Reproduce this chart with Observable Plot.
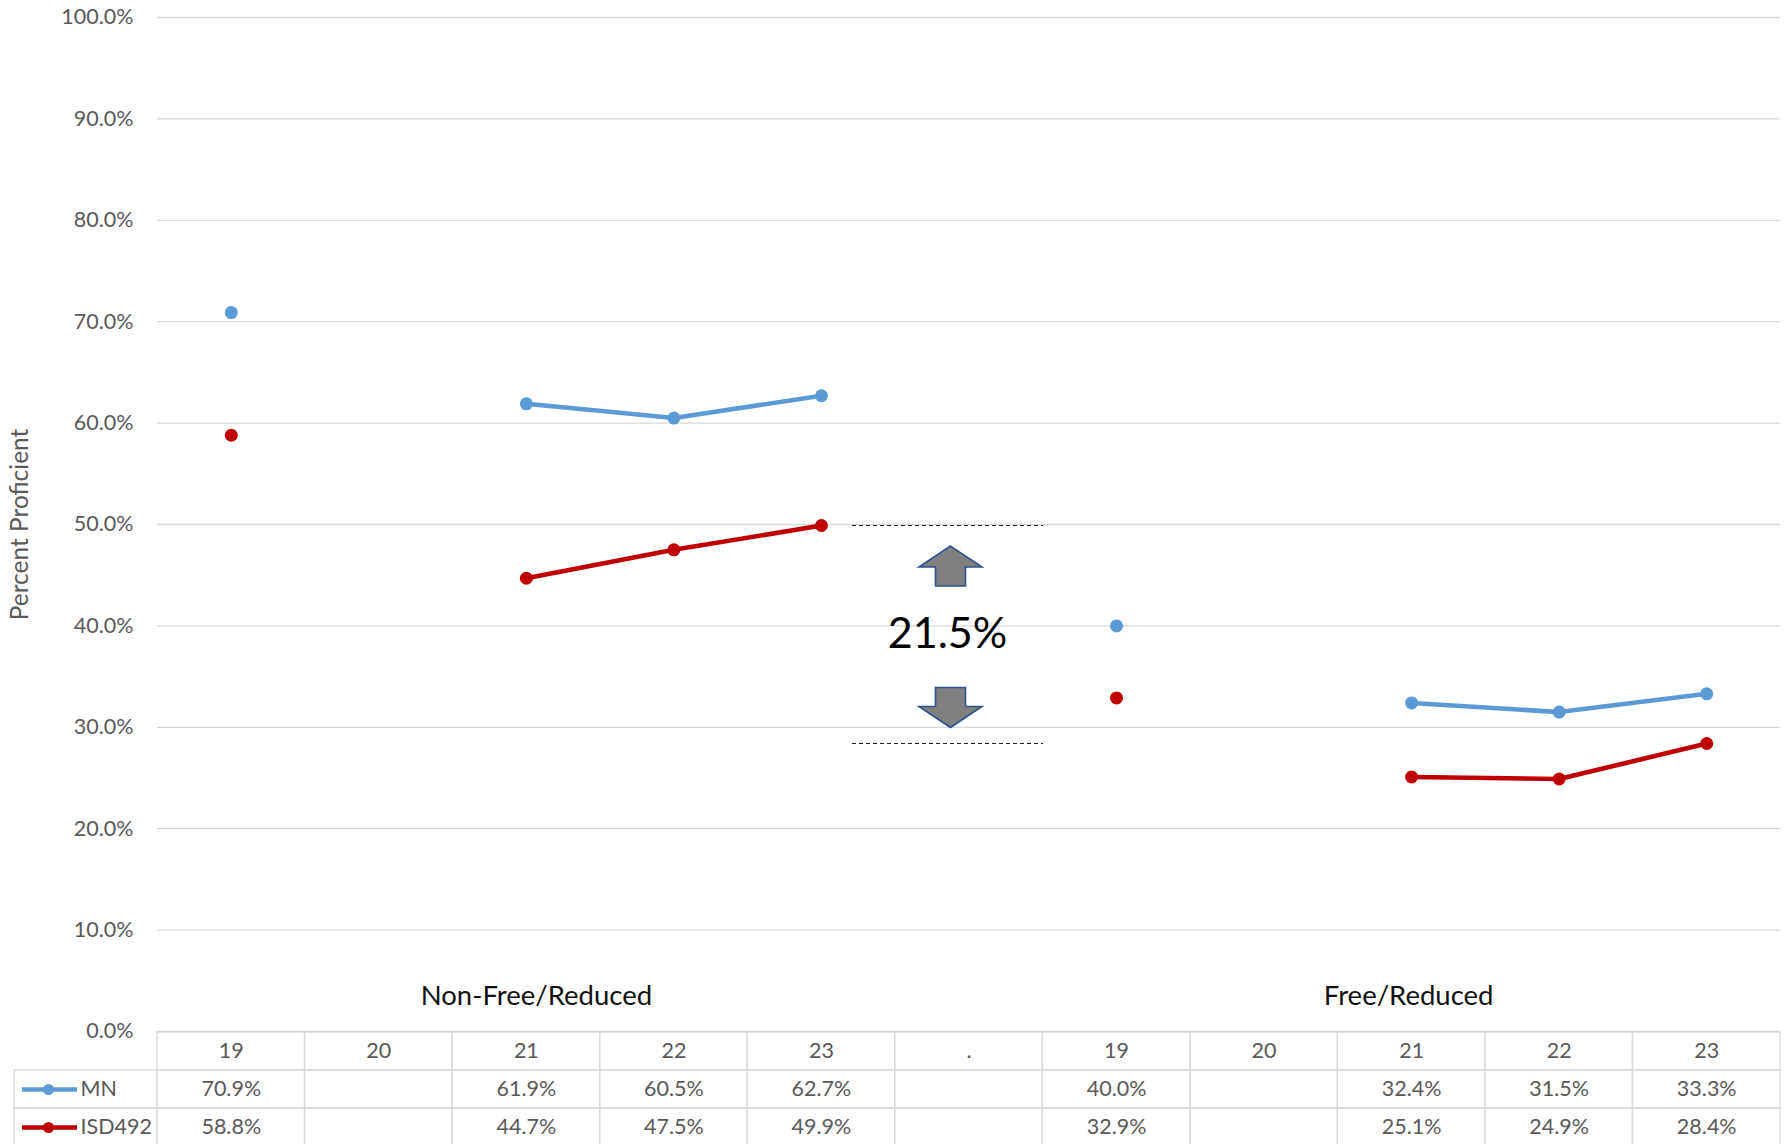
<!DOCTYPE html>
<html>
<head>
<meta charset="utf-8">
<script src="https://cdn.jsdelivr.net/npm/d3@7"></script>
<script src="https://cdn.jsdelivr.net/npm/@observablehq/plot@0.6"></script>
<style>
  html, body { margin: 0; padding: 0; background: #fff; overflow: hidden; }
  #wrap { position: relative; width: 1789px; height: 1144px; }
  #table { position: absolute; left: 0; top: 1032px; }
  #chart { position: absolute; left: 0; top: 0; }
</style>
</head>
<body>
<div id="wrap"><div id="chart"></div><div id="table"></div></div>
<script>
// ---- data ----
const categories = ["19", "20", "21", "22", "23", ".", "19", "20", "21", "22", "23"];
const mnValues  = [70.9, null, 61.9, 60.5, 62.7, null, 40.0, null, 32.4, 31.5, 33.3];
const isdValues = [58.8, null, 44.7, 47.5, 49.9, null, 32.9, null, 25.1, 24.9, 28.4];
const seriesNames = ["MN", "ISD492"];
const groupLabels = ["Non-Free/Reduced", "Free/Reduced"];
const groupCenterIndex = [2, 8];
const yTicks = [0, 10, 20, 30, 40, 50, 60, 70, 80, 90, 100];
const yLabel = "Percent Proficient";

// ---- layout ----
const W = 1789, H = 1144;
const L = 157, R = 1780, T = 17, B0 = 1031;
const colW = (R - L) / categories.length;
const px2x = p => -0.5 + (p - L) / colW;
const FONT = "Lato, 'Open Sans', sans-serif";
const colors = {MN: "#5B9BD5", ISD492: "#C00000"};
const series = [
  {name: seriesNames[0], values: mnValues},
  {name: seriesNames[1], values: isdValues}
];

// block arrow symbol
const blockArrow = {
  draw(ctx, size) {
    const k = Math.sqrt(size / Math.PI) / 20;
    ctx.moveTo(0, -20 * k);
    ctx.lineTo(31.5 * k, 1 * k);
    ctx.lineTo(15 * k, 1 * k);
    ctx.lineTo(15 * k, 20 * k);
    ctx.lineTo(-15 * k, 20 * k);
    ctx.lineTo(-15 * k, 1 * k);
    ctx.lineTo(-31.5 * k, 1 * k);
    ctx.closePath();
  }
};

// annotation derived from data: gap between ISD492 at the last year of each group
const iTop = 4, iBot = 10;
const gapTop = isdValues[iTop], gapBot = isdValues[iBot];
const gap = gapTop - gapBot;
const mid = (gapTop + gapBot) / 2;
const annX = px2x(950);

const marks = [
  Plot.gridY(yTicks, {stroke: "#D9D9D9", strokeOpacity: 1, strokeWidth: 1.3}),
  Plot.axisY(yTicks, {tickSize: 0, tickPadding: 24, tickFormat: d => d.toFixed(1) + "%",
    fontSize: 21.5, fill: "#595959", label: null}),
  Plot.text([yLabel], {frameAnchor: "left", textAnchor: "middle", dx: -137, rotate: -90, fontSize: 24.5, fill: "#595959"}),
  Plot.text([{g: groupLabels[0], i: groupCenterIndex[0]}],
    {x: "i", y: 3.5, text: "g", fontSize: 27.5, fill: "#111", dx: 10}),
  Plot.text([{g: groupLabels[1], i: groupCenterIndex[1]}],
    {x: "i", y: 3.5, text: "g", fontSize: 27.5, fill: "#111", dx: -3}),
  Plot.ruleY([gapTop, gapBot], {x1: px2x(852), x2: px2x(1043), stroke: "#222",
    strokeWidth: 1.2, strokeDasharray: "4,3"}),
  Plot.text([gap.toFixed(1) + "%"], {x: annX, y: mid, fontSize: 43, fill: "#000", dx: -3}),
  Plot.dot([{y: mid + 6.75, r: 0}, {y: mid - 7.2, r: 180}],
    {x: annX, y: "y", rotate: "r", symbol: blockArrow, r: 20, fill: "#808080",
     stroke: "#2F528F", strokeWidth: 1.6})
];
for (const s of series) {
  const rows = s.values.map((v, i) => ({i, v}));
  marks.push(Plot.line(rows, {x: "i", y: "v", stroke: colors[s.name], strokeWidth: 4.6}));
  marks.push(Plot.dot(rows.filter(d => d.v != null), {x: "i", y: "v", r: 6.5, fill: colors[s.name], stroke: "none"}));
}

const chart = Plot.plot({
  width: W, height: H,
  marginLeft: L, marginRight: W - R, marginTop: T, marginBottom: H - B0,
  style: {fontFamily: FONT, background: "transparent", overflow: "visible"},
  x: {domain: [-0.5, 10.5], axis: null},
  y: {domain: [0, 100], axis: null},
  marks
});
document.getElementById("chart").append(chart);

// ---- data table ----
const legendLeft = px2x(14);
const cells = [];
categories.forEach((c, i) => {
  for (let r = 0; r < 3; r++) cells.push({x1: i - 0.5, x2: i + 0.5, y1: r, y2: r + 1});
});
cells.push({x1: legendLeft, x2: -0.5, y1: 1, y2: 2});
cells.push({x1: legendLeft, x2: -0.5, y1: 2, y2: 3});

const headerText = categories.map((c, i) => ({i, t: c, r: 0.5}));
const valueText = series.flatMap((s, k) => s.values.map((v, i) => ({i, t: v == null ? "" : v.toFixed(1) + "%", r: k + 1.5})));

const legendMarks = series.flatMap((s, k) => [
  Plot.ruleY([k + 1.5], {x1: px2x(22), x2: px2x(77), stroke: colors[s.name], strokeWidth: 4.5}),
  Plot.dot([k + 1.5], {x: px2x(48), y: d => d, r: 5.5, fill: colors[s.name]}),
  Plot.text([s.name], {x: px2x(80), y: k + 1.5, textAnchor: "start", fontSize: 21.5, fill: "#595959"})
]);

const table = Plot.plot({
  width: W, height: 112, margin: 0,
  style: {fontFamily: FONT, background: "transparent", overflow: "visible"},
  x: {domain: [-0.5, 10.5], range: [L, R], axis: null},
  y: {domain: [0, 3], range: [0, 114], axis: null},
  marks: [
    Plot.rect(cells, {x1: "x1", x2: "x2", y1: "y1", y2: "y2", fill: "none", stroke: "#D9D9D9", strokeWidth: 1.3}),
    Plot.text(headerText, {x: "i", y: "r", text: "t", fontSize: 21.5, fill: "#595959"}),
    Plot.text(valueText, {x: "i", y: "r", text: "t", fontSize: 21.5, fill: "#595959"}),
    ...legendMarks
  ]
});
document.getElementById("table").append(table);
</script>
</body>
</html>
